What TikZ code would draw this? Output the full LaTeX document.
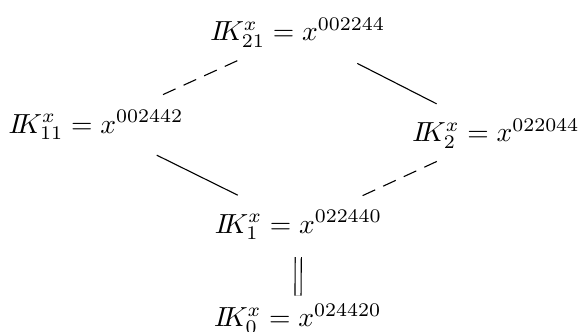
\documentclass[tikz,border=0pt]{standalone}
\usepackage{amsmath,amssymb}
\usetikzlibrary{calc}

\newcommand{\IK}{I\mkern-4mu K}

\begin{document}
\begin{tikzpicture}[scale=1.087,dashline/.style={dash pattern=on 5pt off 3.2pt}]
\useasboundingbox (0,0) rectangle (6.786,3.891);
\node[anchor=base] (k21) at (3.49,3.411) {$\IK^x_{21}=x^{002244}$};
\node[anchor=base] (k11) at (1.125,2.332) {$\IK^x_{11}=x^{002442}$};
\node[anchor=base] (k2) at (5.813,2.227) {$\IK^x_{2}=x^{022044}$};
\node[anchor=base] (k1) at (3.498,1.160) {$\IK^x_{1}=x^{022440}$};
\node[anchor=base] (k0) at (3.49,0.059) {$\IK^x_{0}=x^{024420}$};
\draw[dashline] ($(k21)!0.3!(k11)$) -- ($(k21)!0.7!(k11)$);
\draw ($(k21)!0.3!(k2)$) -- ($(k21)!0.7!(k2)$);
\draw ($(k11)!0.3!(k1)$) -- ($(k11)!0.7!(k1)$);
\draw[dashline] ($(k2)!0.3!(k1)$) -- ($(k2)!0.7!(k1)$);
\draw[double,double distance=1.8pt] ($(k1)!0.34!(k0)$) -- ($(k1)!0.75!(k0)$);
\end{tikzpicture}
\end{document}
